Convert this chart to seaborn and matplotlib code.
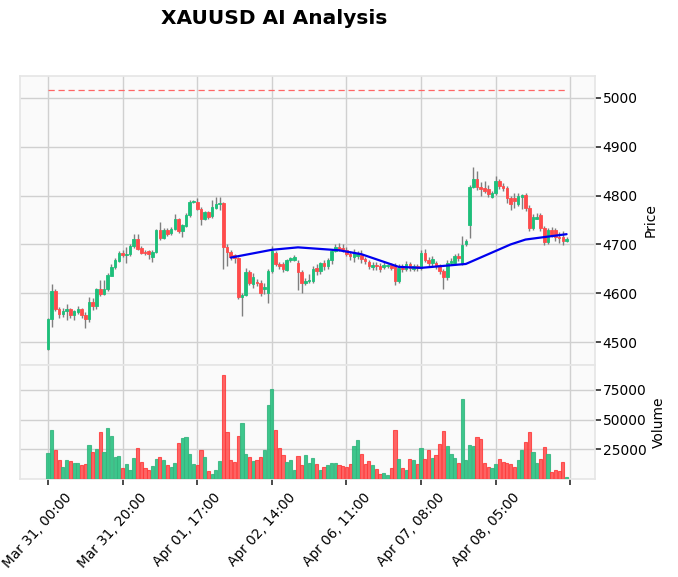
import numpy as np
import pandas as pd
import matplotlib
matplotlib.use("Agg")
import matplotlib.pyplot as plt
import matplotlib.transforms as mtransforms
import seaborn as sns

# hourly XAUUSD candles
opens = [4486, 4547, 4605, 4567, 4557, 4563, 4567, 4556, 4562, 4568,
         4555, 4547, 4583, 4574, 4608, 4598, 4608, 4636, 4653, 4667,
         4683, 4679, 4681, 4696, 4711, 4692, 4685, 4686, 4675, 4685,
         4730, 4714, 4730, 4724, 4732, 4752, 4727, 4738, 4760, 4787,
         4786, 4773, 4753, 4766, 4758, 4775, 4783, 4784, 4695, 4685,
         4678, 4672, 4592, 4597, 4644, 4619, 4623, 4621, 4609, 4601,
         4646, 4682, 4660, 4660, 4648, 4668, 4669, 4662, 4644, 4621,
         4625, 4625, 4652, 4646, 4662, 4656, 4668, 4687, 4694, 4692,
         4689, 4681, 4675, 4676, 4679, 4670, 4663, 4653, 4658, 4656,
         4654, 4656, 4658, 4658, 4625, 4652, 4650, 4660, 4650, 4656,
         4651, 4682, 4668, 4662, 4662, 4657, 4645, 4633, 4662, 4662,
         4677, 4662, 4701, 4740, 4818, 4834, 4817, 4816, 4813, 4798,
         4805, 4829, 4820, 4815, 4795, 4795, 4783, 4797, 4801, 4774,
         4733, 4752, 4760, 4733, 4704, 4730, 4730, 4716, 4716, 4706]
closes = [4547, 4605, 4567, 4557, 4564, 4567, 4556, 4564, 4568, 4555,
          4547, 4583, 4574, 4608, 4598, 4609, 4637, 4654, 4669, 4683,
          4679, 4681, 4697, 4711, 4691, 4683, 4682, 4680, 4685, 4730,
          4714, 4730, 4722, 4731, 4752, 4727, 4739, 4760, 4787, 4788,
          4773, 4753, 4766, 4756, 4777, 4783, 4784, 4695, 4685, 4675,
          4672, 4593, 4596, 4644, 4620, 4634, 4621, 4601, 4612, 4646,
          4687, 4660, 4656, 4650, 4668, 4672, 4674, 4644, 4621, 4626,
          4628, 4650, 4646, 4662, 4656, 4668, 4687, 4694, 4690, 4688,
          4680, 4677, 4682, 4680, 4670, 4666, 4656, 4658, 4655, 4650,
          4657, 4657, 4652, 4625, 4652, 4650, 4660, 4652, 4656, 4651,
          4682, 4668, 4662, 4671, 4655, 4645, 4633, 4662, 4667, 4677,
          4672, 4699, 4708, 4818, 4834, 4817, 4813, 4810, 4804, 4805,
          4829, 4820, 4816, 4795, 4783, 4788, 4799, 4801, 4774, 4733,
          4756, 4756, 4733, 4704, 4730, 4720, 4715, 4714, 4706, 4711]
highs = [4549, 4619, 4608, 4572, 4570, 4577, 4570, 4566, 4574, 4570,
         4561, 4592, 4590, 4610, 4628, 4628, 4641, 4660, 4672, 4687,
         4688, 4695, 4700, 4722, 4722, 4696, 4688, 4689, 4688, 4732,
         4745, 4733, 4734, 4735, 4763, 4755, 4742, 4765, 4790, 4792,
         4795, 4776, 4769, 4769, 4790, 4797, 4797, 4787, 4700, 4689,
         4681, 4675, 4600, 4652, 4648, 4641, 4630, 4628, 4620, 4650,
         4697, 4686, 4664, 4665, 4671, 4675, 4678, 4668, 4648, 4632,
         4640, 4655, 4660, 4665, 4668, 4673, 4690, 4700, 4702, 4700,
         4694, 4686, 4690, 4686, 4688, 4674, 4668, 4664, 4663, 4662,
         4663, 4660, 4661, 4661, 4660, 4660, 4667, 4663, 4660, 4660,
         4689, 4690, 4675, 4676, 4667, 4660, 4650, 4668, 4672, 4681,
         4682, 4718, 4712, 4821, 4859, 4850, 4828, 4830, 4822, 4810,
         4840, 4833, 4826, 4820, 4800, 4805, 4805, 4803, 4805, 4780,
         4762, 4765, 4764, 4738, 4734, 4735, 4734, 4726, 4728, 4716]
lows = [4483, 4531, 4563, 4550, 4552, 4546, 4550, 4545, 4558, 4550,
        4529, 4541, 4565, 4568, 4594, 4596, 4604, 4650, 4650, 4663,
        4675, 4662, 4677, 4693, 4688, 4680, 4678, 4670, 4665, 4682,
        4710, 4711, 4718, 4720, 4730, 4724, 4715, 4735, 4757, 4784,
        4770, 4740, 4750, 4753, 4755, 4772, 4770, 4650, 4655, 4668,
        4662, 4588, 4553, 4595, 4616, 4610, 4614, 4594, 4598, 4580,
        4642, 4655, 4650, 4643, 4645, 4664, 4667, 4607, 4601, 4617,
        4620, 4620, 4638, 4640, 4648, 4650, 4660, 4684, 4686, 4684,
        4676, 4668, 4665, 4670, 4662, 4660, 4650, 4648, 4648, 4644,
        4650, 4651, 4647, 4617, 4620, 4643, 4646, 4646, 4645, 4645,
        4647, 4664, 4655, 4656, 4650, 4640, 4609, 4628, 4658, 4658,
        4666, 4658, 4697, 4713, 4815, 4812, 4800, 4806, 4798, 4795,
        4802, 4814, 4810, 4785, 4770, 4775, 4778, 4772, 4768, 4728,
        4730, 4752, 4728, 4698, 4700, 4715, 4708, 4702, 4698, 4704]
volumes = [21700, 40900, 24200, 15800, 10000, 15800, 15000, 13300, 13300, 12200,
           13000, 28400, 22500, 25000, 39200, 22500, 42500, 35900, 18400, 19200,
           9200, 12500, 7500, 17500, 25900, 14200, 9200, 7500, 10800, 16700,
           18300, 15800, 11700, 10000, 13300, 30000, 34200, 35000, 20800, 12500,
           11700, 24200, 18300, 6700, 4200, 7500, 15000, 87600, 39200, 15800,
           14200, 35900, 46700, 20800, 18300, 15000, 15800, 18300, 24200, 62500,
           75900, 40900, 25900, 20000, 14200, 15800, 7500, 19200, 11700, 20000,
           13300, 17500, 12500, 7500, 10000, 11700, 13300, 13300, 11700, 10800,
           10000, 12500, 27500, 32500, 20800, 12500, 15000, 11700, 8300, 4200,
           5000, 3300, 9200, 40900, 16700, 9200, 7500, 16700, 15800, 12500,
           25900, 16700, 24200, 17500, 20000, 29200, 40000, 27500, 20800, 17500,
           13300, 67500, 15800, 28400, 27500, 35000, 33400, 13300, 10000, 9200,
           12500, 16700, 14200, 13300, 12500, 10000, 15800, 24200, 30900, 39200,
           22500, 13300, 16700, 26700, 20800, 5800, 7500, 6700, 14200, 1700]

# moving average line (vertices as seen on the chart)
ma_idx = [49, 60, 67, 78, 84, 94, 100, 112, 118, 124, 128, 139]
ma_val = [4673, 4689, 4694, 4688, 4680, 4654, 4652, 4660, 4680, 4700, 4710, 4721]

target_level = 5016

tick_pos = [0, 20, 40, 60, 80, 100, 120, 140]
tick_labels = ["Mar 31, 00:00", "Mar 31, 20:00", "Apr 01, 17:00", "Apr 02, 14:00",
               "Apr 06, 11:00", "Apr 07, 08:00", "Apr 08, 05:00", ""]

df = pd.DataFrame({"open": opens, "high": highs, "low": lows,
                   "close": closes, "volume": volumes})
df["idx"] = np.arange(len(df))
df["dir"] = np.where(df["close"] >= df["open"], "up", "down")
ma = pd.DataFrame({"idx": ma_idx, "ma": ma_val})

sns.set_theme(style="whitegrid")
plt.rcParams["font.family"] = ["DejaVu Sans"]
plt.rcParams["text.color"] = "black"
plt.rcParams["axes.labelcolor"] = "black"
plt.rcParams["xtick.color"] = "black"
plt.rcParams["ytick.color"] = "black"

up_c = "#1dbf7a"
dn_c = "#ff4b4b"
colors = {"up": up_c, "down": dn_c}

fig = plt.figure(figsize=(6.78, 5.77), dpi=100)
ax = fig.add_axes([0.0295, 0.3674, 0.848, 0.5009])
axv = fig.add_axes([0.0295, 0.1698, 0.848, 0.1976], sharex=ax)

for a in (ax, axv):
    a.set_facecolor("#fafafa")
    a.grid(True, color="#d0d0d0", linewidth=1.0)
    for s in a.spines.values():
        s.set_color("#e6e6e6")
    a.yaxis.tick_right()
    a.yaxis.set_label_position("right")
    a.tick_params(axis="y", which="both", right=True, length=4, color="#333333",
                  labelsize=10, pad=1.5)

# candles
ax.vlines(df["idx"], df["low"], df["high"], color="#7f7f7f", linewidth=1.0, zorder=2)
body_bottom = df[["open", "close"]].min(axis=1)
body_height = (df["close"] - df["open"]).abs().clip(lower=0.8)
ax.bar(df["idx"], body_height, bottom=body_bottom, width=0.7,
       color=df["dir"].map(colors), edgecolor=df["dir"].map(colors),
       linewidth=0.6, zorder=3)

sns.lineplot(data=ma, x="idx", y="ma", ax=ax, color="#0000ee", linewidth=1.6, zorder=4)
ax.plot([0, len(df) - 1], [target_level, target_level], color="#ff6666",
        linestyle=(0, (5, 3)), linewidth=0.9, zorder=2)

ax.set_ylim(4453, 5045)
ax.set_yticks([4500, 4600, 4700, 4800, 4900, 5000])
ax.set_ylabel("Price", fontsize=10)
ax.set_xlabel("")
ax.tick_params(axis="x", bottom=False, labelbottom=False)

# volume
axv.bar(df["idx"], df["volume"], width=0.85, color=df["dir"].map(colors),
        edgecolor=df["dir"].map({"up": "#35b57f", "down": "#ff3b3b"}),
        alpha=0.85, linewidth=0.8, zorder=3)
axv.set_ylim(0, 95800)
axv.set_yticks([25000, 50000, 75000])
axv.set_ylabel("Volume", fontsize=10)
axv.set_xlim(-7.5, 146.6)
axv.set_xticks(tick_pos)
axv.set_xticklabels(tick_labels, rotation=48, ha="right", rotation_mode="anchor",
                    fontsize=9.8)
axv.tick_params(axis="x", bottom=True, length=4, color="#333333", pad=4)
shift = mtransforms.ScaledTranslation(0.16, 0, fig.dpi_scale_trans)
for lbl in axv.get_xticklabels():
    lbl.set_transform(lbl.get_transform() + shift)

fig.text(0.405, 0.968, "XAUUSD AI Analysis", ha="center", va="center",
         fontsize=14.5, fontweight="bold")

fig.savefig("out.png", dpi=100)
